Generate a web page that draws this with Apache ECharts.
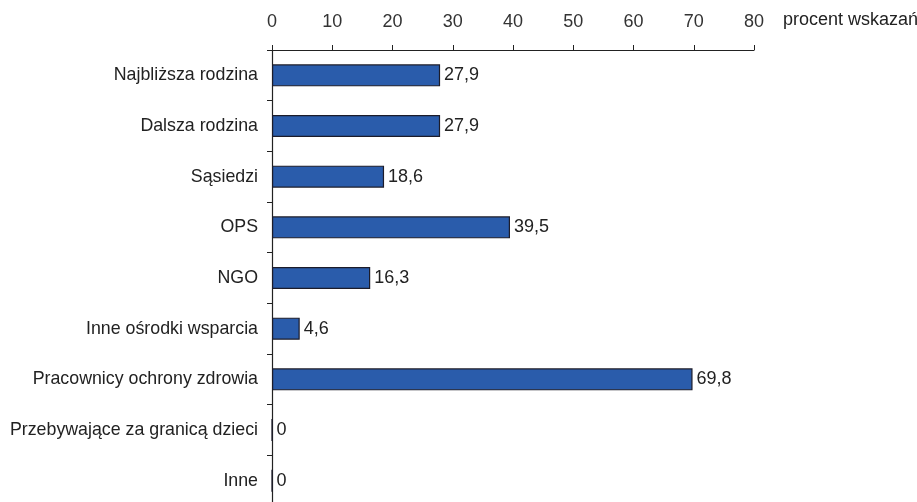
<!DOCTYPE html>
<html>
<head>
<meta charset="utf-8">
<script src="https://cdn.jsdelivr.net/npm/echarts@6/dist/echarts.min.js"></script>
<style>
  html, body { margin: 0; padding: 0; background: #fff; }
  #chart { width: 917px; height: 502px; }
</style>
</head>
<body>
<div id="chart"></div>
<script>
const categories = [
  'Najbliższa rodzina',
  'Dalsza rodzina',
  'Sąsiedzi',
  'OPS',
  'NGO',
  'Inne ośrodki wsparcia',
  'Pracownicy ochrony zdrowia',
  'Przebywające za granicą dzieci',
  'Inne'
];
const values = [27.9, 27.9, 18.6, 39.5, 16.3, 4.6, 69.8, 0, 0];
const axisName = 'procent wskazań';

const chart = echarts.init(document.getElementById('chart'));
const font = 'Liberation Sans, Arial, sans-serif';

chart.setOption({
  animation: false,
  grid: { left: 272, width: 482, top: 50, height: 456, outerBoundsMode: 'none' },
  xAxis: {
    type: 'value',
    position: 'top',
    min: 0,
    max: 80,
    interval: 10,
    name: axisName,
    nameLocation: 'end',
    nameGap: 29,
    nameTextStyle: {
      color: '#222', fontSize: 18, fontFamily: font,
      verticalAlign: 'bottom', padding: [0, 0, 21, 0]
    },
    axisLine: { show: true, lineStyle: { color: '#222', width: 1.2 } },
    axisTick: { show: true, length: 5, lineStyle: { color: '#222' } },
    axisLabel: { color: '#333', fontSize: 18, fontFamily: font, margin: 19 },
    splitLine: { show: false }
  },
  yAxis: {
    type: 'category',
    inverse: true,
    data: categories,
    axisLine: { show: true, lineStyle: { color: '#222', width: 1.2 } },
    axisTick: { show: true, length: 5, lineStyle: { color: '#222' } },
    axisLabel: { color: '#222', fontSize: 17.8, fontFamily: font, margin: 14 }
  },
  series: [
    {
      type: 'bar',
      data: values,
      barWidth: 22,
      itemStyle: { color: '#2a5cab', borderColor: '#1c1c2a', borderWidth: 1.2 },
      label: {
        show: true,
        position: 'right',
        distance: 4,
        color: '#222',
        fontSize: 18,
        fontFamily: font,
        formatter: p => String(p.value).replace('.', ',')
      }
    }
  ]
});
</script>
</body>
</html>
